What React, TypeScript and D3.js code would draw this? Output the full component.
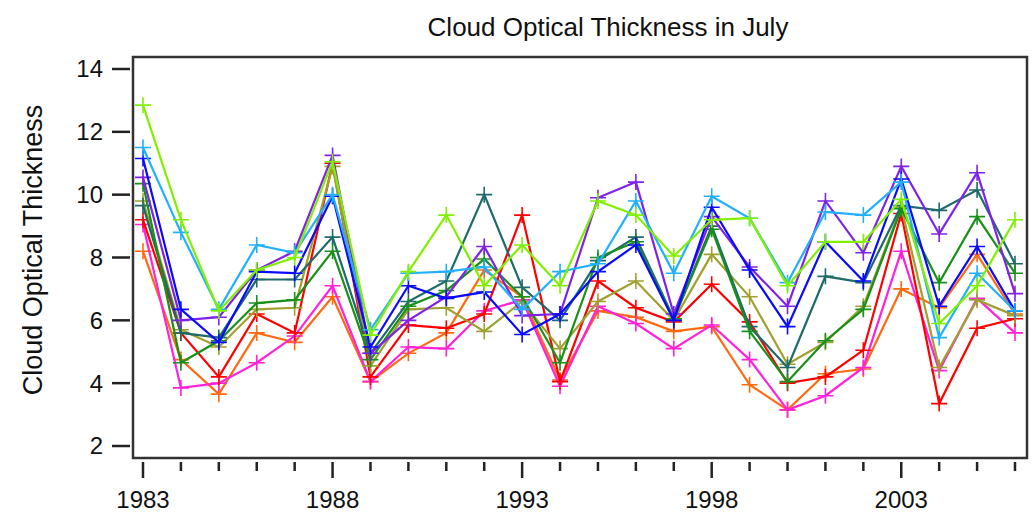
import * as d3 from "d3";

const years = d3.range(1983, 2007);
const majorYears = [1983, 1988, 1993, 1998, 2003];
const yTicks = [2, 4, 6, 8, 10, 12, 14];

// one array per series, 1983..2006
const orange = [8.2, 4.75, 3.65, 5.6, 5.3, 6.75, 4.05, 4.95, 5.6, 7.6, 6.75, 4.1, 6.3, 6.1, 5.65, 5.8, 3.95, 3.15, 4.3, 4.45, 7.0, 6.4, 8.1, 6.2];
const magenta = [9.05, 3.85, 4.0, 4.65, 5.5, 7.1, 4.05, 5.15, 5.1, 6.3, 6.65, 3.9, 6.45, 5.9, 5.1, 5.85, 4.75, 3.15, 3.6, 4.5, 8.2, 4.4, 6.7, 5.6];
const red = [9.2, 5.6, 4.2, 6.2, 5.6, 11.0, 4.2, 5.85, 5.75, 6.2, 9.35, 4.05, 7.25, 6.4, 5.95, 7.15, 5.95, 4.0, 4.2, 5.05, 9.4, 3.35, 5.75, 6.05];
const olive = [9.8, 5.7, 5.15, 6.35, 6.4, 10.9, 4.55, 6.35, 6.4, 5.65, 6.6, 5.1, 6.6, 7.25, 6.0, 8.1, 6.75, 4.6, 5.3, 6.45, 9.6, 4.5, 6.65, 6.15];
const teal = [9.65, 5.6, 5.45, 7.3, 7.3, 8.65, 4.95, 6.6, 7.25, 10.0, 7.05, 6.0, 7.9, 8.65, 6.05, 9.0, 5.8, 4.5, 7.4, 7.2, 9.65, 9.5, 10.15, 7.8];
const darkGreen = [10.35, 4.65, 5.35, 6.55, 6.65, 8.2, 4.75, 6.45, 6.95, 7.95, 6.75, 4.65, 8.0, 8.5, 6.05, 8.9, 5.65, 4.05, 5.35, 6.35, 9.55, 7.2, 9.3, 7.5];
const purple = [10.55, 6.0, 6.1, 7.6, 8.2, 11.25, 4.95, 6.0, 6.75, 8.35, 6.15, 6.2, 9.9, 10.4, 6.2, 9.3, 7.7, 6.45, 9.8, 8.15, 10.9, 8.75, 10.7, 6.85];
const blue = [11.15, 6.35, 5.3, 7.55, 7.5, 9.95, 5.15, 7.1, 6.7, 6.9, 5.55, 6.2, 7.55, 8.4, 6.0, 9.6, 7.6, 5.8, 8.5, 7.25, 10.5, 6.45, 8.35, 6.3];
const lightBlue = [11.5, 8.8, 6.35, 8.4, 8.15, 10.0, 5.7, 7.5, 7.55, 7.7, 6.35, 7.55, 7.8, 9.8, 7.5, 9.95, 9.25, 7.2, 9.45, 9.35, 10.4, 5.45, 7.5, 6.3];
const lime = [12.85, 9.2, 6.3, 7.6, 8.0, 11.05, 5.53, 7.55, 9.35, 7.1, 8.4, 7.1, 9.8, 9.35, 8.05, 9.2, 9.25, 7.1, 8.5, 8.5, 9.85, 5.9, 7.1, 9.2];

const series = [
  { color: "#ff6a10", values: orange },
  { color: "#ff22d8", values: magenta },
  { color: "#ff0000", values: red },
  { color: "#a0a030", values: olive },
  { color: "#1f6a6a", values: teal },
  { color: "#18901a", values: darkGreen },
  { color: "#7f22e8", values: purple },
  { color: "#0a0aff", values: blue },
  { color: "#20b0ff", values: lightBlue },
  { color: "#80f000", values: lime },
];

const width = 1034;
const height = 525;
const frame = { left: 133, right: 1027, top: 57, bottom: 458 };

export default function App() {
  const x = d3.scaleLinear().domain([1983, 2006]).range([143, 1015]);
  const y = d3.scaleLinear().domain([2, 14]).range([446, 69]);
  const line = d3
    .line<number>()
    .x((_, i) => x(years[i]))
    .y((d) => y(d));
  const m = 8; // half size of the + markers
  const font = "'Liberation Sans', Arial, sans-serif";

  return (
    <svg
      width={width}
      height={height}
      style={{ position: "absolute", left: 0, top: 0, background: "#fff" }}
      fontFamily={font}
    >
      <text x={608} y={36} fontSize={26} textAnchor="middle" fill="#111">
        Cloud Optical Thickness in July
      </text>
      <text
        transform={`translate(42, 250) rotate(-90)`}
        fontSize={27}
        textAnchor="middle"
        fill="#111"
      >
        Cloud Optical Thickness
      </text>

      {/* y axis */}
      {yTicks.map((t) => (
        <g key={t}>
          <line x1={112} x2={130} y1={y(t)} y2={y(t)} stroke="#222" strokeWidth={2.5} />
          <text x={103} y={y(t)} dy="0.35em" fontSize={24} textAnchor="end" fill="#111">
            {t}
          </text>
        </g>
      ))}

      {/* x axis */}
      {years.map((yr) => {
        const major = majorYears.includes(yr);
        return (
          <g key={yr}>
            <line
              x1={x(yr)}
              x2={x(yr)}
              y1={462}
              y2={major ? 478 : 471}
              stroke="#222"
              strokeWidth={2.5}
            />
            {major && (
              <text x={x(yr)} y={508} fontSize={24} textAnchor="middle" fill="#111">
                {yr}
              </text>
            )}
          </g>
        );
      })}

      {/* series */}
      {series.map((s, si) => (
        <g key={si}>
          <path d={line(s.values) ?? ""} fill="none" stroke={s.color} strokeWidth={2.2} />
          {s.values.map((v, i) => (
            <path
              key={i}
              d={`M${x(years[i]) - m},${y(v)}h${2 * m}M${x(years[i])},${y(v) - m}v${2 * m}`}
              stroke={s.color}
              strokeWidth={1.6}
            />
          ))}
        </g>
      ))}

      <rect
        x={frame.left}
        y={frame.top}
        width={frame.right - frame.left}
        height={frame.bottom - frame.top}
        fill="none"
        stroke="#333"
        strokeWidth={2.5}
      />
    </svg>
  );
}
